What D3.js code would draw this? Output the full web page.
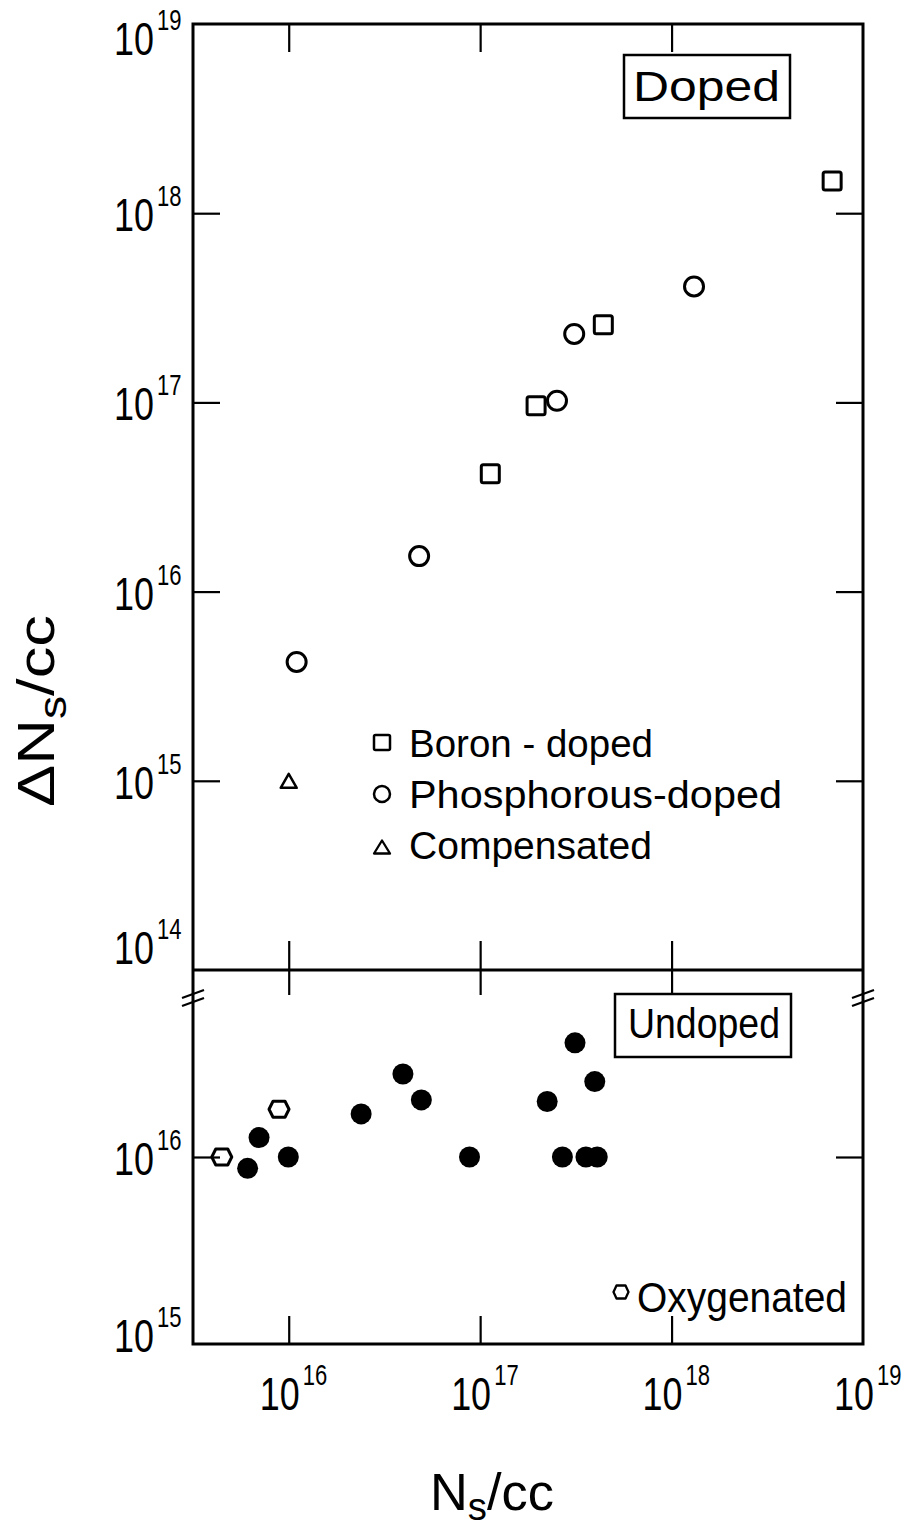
<!DOCTYPE html>
<html><head><meta charset="utf-8">
<script src="https://cdn.jsdelivr.net/npm/d3@7/dist/d3.min.js"></script>
<style>
body{margin:0;background:#fff}
text{font-family:"Liberation Sans",Arial,sans-serif;fill:#000}
</style>
</head><body>
<svg id="chart" width="909" height="1533"></svg>
<script>
// ---- data (N_s/cc , ΔN_s/cc) ----
const boronX = [6.9e18, 4.4e17, 1.96e17, 1.13e17];
const boronY = [1.48e18, 2.57e17, 9.6e16, 4.2e16];
const phosX  = [1.31e18, 3.1e17, 2.52e17, 4.8e16, 1.1e16];
const phosY  = [4.1e17, 2.3e17, 1.02e17, 1.54e16, 4.25e15];
const compX  = [1.0e16];
const compY  = [1.0e15];
const undopedX = [6.1e15, 7.0e15, 9.95e15, 2.39e16, 3.95e16, 4.93e16, 8.8e16, 2.24e17, 2.69e17, 3.57e17, 4.09e17, 3.97e17, 3.13e17];
const undopedY = [8.7e15, 1.27e16, 1.0e16, 1.7e16, 2.78e16, 2.02e16, 1.0e16, 1.98e16, 1.0e16, 1.0e16, 1.0e16, 2.53e16, 4.08e16];
const oxyX = [4.47e15, 8.9e15];
const oxyY = [1.0e16, 1.8e16];
const xTickExp = [16, 17, 18, 19];
const yUpperExp = [14, 15, 16, 17, 18, 19];
const yLowerExp = [15, 16];
const legendLabels = ["Boron - doped", "Phosphorous-doped", "Compensated"];
const panelLabels = ["Doped", "Undoped"];
const oxyLabel = "Oxygenated";

// ---- layout ----
const L = 193, R = 863, T = 24, B = 1344, BRK = 970;
const svg = d3.select("#chart");

const x  = d3.scaleLog().domain([Math.pow(10, 15.5), 1e19]).range([L, R]);
const yU = d3.scaleLog().domain([1e14, 1e19]).range([BRK, T]);
const yL = d3.scaleLog().domain([1e15, 1e17]).range([B, BRK]);

function styleAxis(g){
  g.select(".domain").remove();
  g.selectAll(".tick line").attr("stroke","#000").attr("stroke-width",2.2);
  g.selectAll(".tick text").remove();
}
const inner = v => v.map(e => Math.pow(10, e));
// left / right
svg.append("g").attr("transform",`translate(${L},0)`)
  .call(d3.axisLeft(yU).tickValues(inner([15,16,17,18])).tickSizeInner(-27).tickSizeOuter(0)).call(styleAxis);
svg.append("g").attr("transform",`translate(${R},0)`)
  .call(d3.axisRight(yU).tickValues(inner([15,16,17,18])).tickSizeInner(-27).tickSizeOuter(0)).call(styleAxis);
svg.append("g").attr("transform",`translate(${L},0)`)
  .call(d3.axisLeft(yL).tickValues(inner([16])).tickSizeInner(-27).tickSizeOuter(0)).call(styleAxis);
svg.append("g").attr("transform",`translate(${R},0)`)
  .call(d3.axisRight(yL).tickValues(inner([16])).tickSizeInner(-27).tickSizeOuter(0)).call(styleAxis);
// top / bottom / break
const xt = inner([16,17,18]);
svg.append("g").attr("transform",`translate(0,${T})`)
  .call(d3.axisTop(x).tickValues(xt).tickSizeInner(-28).tickSizeOuter(0)).call(styleAxis);
svg.append("g").attr("transform",`translate(0,${B})`)
  .call(d3.axisBottom(x).tickValues(xt).tickSizeInner(-28).tickSizeOuter(0)).call(styleAxis);
svg.append("g").attr("transform",`translate(0,${BRK})`)
  .call(d3.axisTop(x).tickValues(xt).tickSizeInner(29).tickSizeOuter(0)).call(styleAxis);
svg.append("g").attr("transform",`translate(0,${BRK})`)
  .call(d3.axisBottom(x).tickValues(xt).tickSizeInner(25).tickSizeOuter(0)).call(styleAxis);

// frame
svg.append("rect").attr("x",L).attr("y",T).attr("width",R-L).attr("height",B-T)
  .attr("fill","none").attr("stroke","#000").attr("stroke-width",3);
svg.append("line").attr("x1",L).attr("x2",R).attr("y1",BRK).attr("y2",BRK)
  .attr("stroke","#000").attr("stroke-width",3);
// break marks
[L, R].forEach(bx => {
  [-4, 4].forEach(o => {
    svg.append("line").attr("x1",bx-11).attr("y1",1002+o).attr("x2",bx+11).attr("y2",994+o)
      .attr("stroke","#000").attr("stroke-width",2.2);
  });
});

// tick labels: "10" and the exponent as separate, horizontally condensed texts
function powLabel(e, x0, by){
  svg.append("text").attr("transform",`translate(${x0},${by}) scale(0.78,1)`)
    .attr("font-size",46).text("10");
  svg.append("text").attr("transform",`translate(${x0+43},${by-25}) scale(0.76,1)`)
    .attr("font-size",29).text(String(e));
}
const yOff = {19: 31, 14: -6};
yUpperExp.forEach(e => {
  const ty = yU(Math.pow(10,e));
  powLabel(e, 114, ty + (yOff[e] !== undefined ? yOff[e] : 18));
});
const yOffL = {16: 18, 15: 8};
yLowerExp.forEach(e => {
  const ty = yL(Math.pow(10,e));
  powLabel(e, 114, ty + yOffL[e]);
});
xTickExp.forEach(e => {
  powLabel(e, x(Math.pow(10,e)) - 29, 1410);
});

// axis titles
const xt2 = svg.append("text").attr("x",492).attr("y",1510).attr("text-anchor","middle").attr("font-size",52)
  .attr("textLength",124).attr("lengthAdjust","spacingAndGlyphs");
xt2.append("tspan").text("N");
xt2.append("tspan").attr("font-size",38).attr("dy",10).text("s");
xt2.append("tspan").attr("dy",-10).text("/cc");
const yt = svg.append("text").attr("transform","translate(54,711) rotate(-90)").attr("text-anchor","middle")
  .attr("font-size",52).attr("textLength",192).attr("lengthAdjust","spacingAndGlyphs");
yt.append("tspan").text("ΔN");
yt.append("tspan").attr("font-size",38).attr("dy",12).text("s");
yt.append("tspan").attr("dy",-12).text("/cc");

// markers
const sw = 3;
const sq = 18;
svg.append("g").selectAll("rect").data(boronX).join("rect")
  .attr("x",(d,i)=>x(d)-sq/2).attr("y",(d,i)=>yU(boronY[i])-sq/2)
  .attr("width",sq).attr("height",sq).attr("rx",2)
  .attr("fill","none").attr("stroke","#000").attr("stroke-width",sw);
svg.append("g").selectAll("circle").data(phosX).join("circle")
  .attr("cx",d=>x(d)).attr("cy",(d,i)=>yU(phosY[i])).attr("r",9.5)
  .attr("fill","none").attr("stroke","#000").attr("stroke-width",sw);
const tri = (cx,cy,w,h) => `M${cx-w/2},${cy+h/2}L${cx},${cy-h/2}L${cx+w/2},${cy+h/2}Z`;
svg.append("g").selectAll("path").data(compX).join("path")
  .attr("d",(d,i)=>tri(x(d),yU(compY[i]),16,14))
  .attr("fill","none").attr("stroke","#000").attr("stroke-width",2.5).attr("stroke-linejoin","round");
svg.append("g").selectAll("circle").data(undopedX).join("circle")
  .attr("cx",d=>x(d)).attr("cy",(d,i)=>yL(undopedY[i])).attr("r",10.5).attr("fill","#000");
const hex = (cx,cy,w,h) => `M${cx-w/2},${cy}L${cx-w*0.3},${cy-h/2}L${cx+w*0.3},${cy-h/2}L${cx+w/2},${cy}L${cx+w*0.3},${cy+h/2}L${cx-w*0.3},${cy+h/2}Z`;
svg.append("g").selectAll("path").data(oxyX).join("path")
  .attr("d",(d,i)=>hex(x(d),yL(oxyY[i]),20,16))
  .attr("fill","none").attr("stroke","#000").attr("stroke-width",sw).attr("stroke-linejoin","round");

// upper legend
const legY = [757, 808, 859];
const legW = [244, 373, 243];
legendLabels.forEach((s,i)=>{
  svg.append("text").attr("x",409).attr("y",legY[i]).attr("font-size",38)
    .attr("textLength",legW[i]).attr("lengthAdjust","spacingAndGlyphs").text(s);
});
svg.append("rect").attr("x",374).attr("y",735).attr("width",16).attr("height",15).attr("rx",1.5)
  .attr("fill","none").attr("stroke","#000").attr("stroke-width",2.5);
svg.append("circle").attr("cx",382).attr("cy",794).attr("r",8)
  .attr("fill","none").attr("stroke","#000").attr("stroke-width",2.5);
svg.append("path").attr("d",tri(382,847,16,13))
  .attr("fill","none").attr("stroke","#000").attr("stroke-width",2.3).attr("stroke-linejoin","round");

// panel labels
const boxes = [{x:624,y:55,w:166,h:63,tx:633,ty:101,tl:147},{x:615,y:994,w:176,h:63,tx:628,ty:1038,tl:152}];
panelLabels.forEach((s,i)=>{
  const b = boxes[i];
  svg.append("rect").attr("x",b.x).attr("y",b.y).attr("width",b.w).attr("height",b.h)
    .attr("fill","none").attr("stroke","#000").attr("stroke-width",2.5);
  svg.append("text").attr("x",b.tx).attr("y",b.ty).attr("font-size",42)
    .attr("textLength",b.tl).attr("lengthAdjust","spacingAndGlyphs").text(s);
});

// oxygenated legend
svg.append("path").attr("d",hex(621,1292,15,13))
  .attr("fill","none").attr("stroke","#000").attr("stroke-width",2.3).attr("stroke-linejoin","round");
svg.append("text").attr("x",637).attr("y",1312).attr("font-size",42)
  .attr("textLength",210).attr("lengthAdjust","spacingAndGlyphs").text(oxyLabel);
</script>
</body></html>
